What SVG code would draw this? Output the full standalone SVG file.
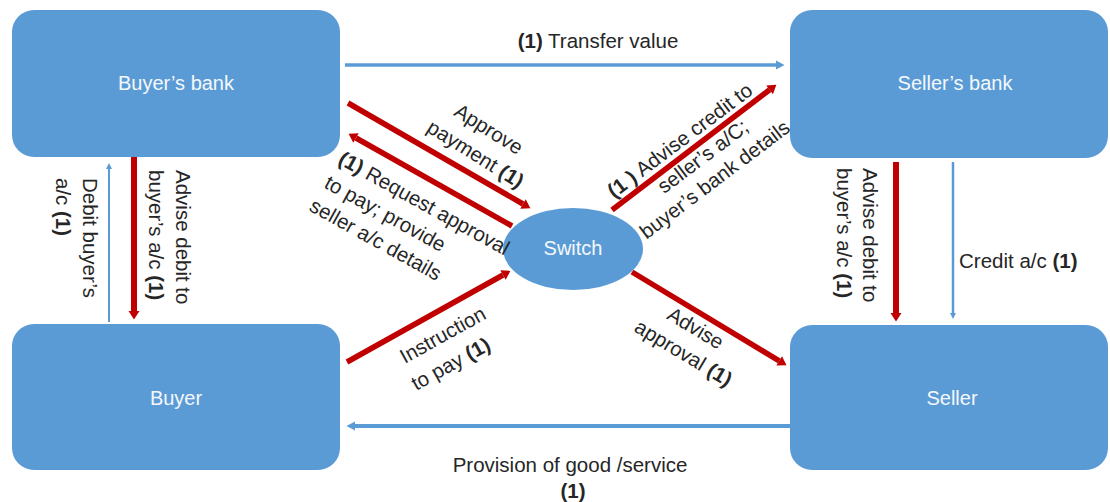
<svg xmlns="http://www.w3.org/2000/svg" width="1110" height="502" viewBox="0 0 1110 502">
  <style>
    .node { fill: #5B9BD5; }
    .ntext { font-family: "Liberation Sans", Arial, sans-serif; font-size: 20px; fill: #F4F8FC; text-anchor: middle; }
    .lbl { font-family: "Liberation Sans", Arial, sans-serif; font-size: 20.5px; fill: #262626; }
    .mid { text-anchor: middle; }
    .b { font-weight: bold; }
    .red { stroke: #C00000; stroke-width: 5.5; fill: none; }
    .redv { stroke: #C00000; stroke-width: 6; fill: none; }
    .blue { stroke: #5B9BD5; fill: none; }
  </style>
  <defs>
    <marker id="ahRed" markerUnits="userSpaceOnUse" markerWidth="12" markerHeight="14" refX="0" refY="6" orient="auto" overflow="visible">
      <path d="M0,0.5 L8.5,6 L0,11.5 Z" fill="#C00000"/>
    </marker>
    <marker id="ahBlue" markerUnits="userSpaceOnUse" markerWidth="12" markerHeight="12" refX="0" refY="5" orient="auto" overflow="visible">
      <path d="M0,0.5 L8.5,5 L0,9.5 Z" fill="#5B9BD5"/>
    </marker>
    <marker id="ahBlueS" markerUnits="userSpaceOnUse" markerWidth="8" markerHeight="8" refX="0" refY="3.5" orient="auto" overflow="visible">
      <path d="M0,0.5 L6,3.5 L0,6.5 Z" fill="#5B9BD5"/>
    </marker>
  </defs>
  <rect width="1110" height="502" fill="#FFFFFF"/>

  <g id="buyers-bank">
    <rect class="node" x="12" y="10" width="328" height="147" rx="22"/>
    <text class="ntext" x="176" y="90">Buyer’s bank</text>
  </g>
  <g id="sellers-bank">
    <rect class="node" x="790" y="10" width="318" height="148" rx="22"/>
    <text class="ntext" x="955" y="90">Seller’s bank</text>
  </g>
  <g id="buyer">
    <rect class="node" x="12" y="324" width="328" height="146" rx="22"/>
    <text class="ntext" x="176" y="405">Buyer</text>
  </g>
  <g id="seller">
    <rect class="node" x="790" y="325" width="318" height="145" rx="22"/>
    <text class="ntext" x="952" y="405">Seller</text>
  </g>
  <g id="switch">
    <ellipse class="node" cx="573" cy="249" rx="70" ry="41"/>
    <text class="ntext" x="573" y="255">Switch</text>
  </g>

  <g id="connectors">
    <g id="transfer-value">
      <line class="blue" stroke-width="3.5" x1="345" y1="65" x2="776" y2="65" marker-end="url(#ahBlue)"/>
      <text class="lbl mid" x="598" y="48"><tspan class="b">(1)</tspan> Transfer value</text>
    </g>
    <g id="provision">
      <line class="blue" stroke-width="4" x1="792" y1="426" x2="355" y2="426" marker-end="url(#ahBlue)"/>
      <text class="lbl mid" x="570" y="472">Provision of good /service</text>
      <text class="lbl mid b" x="573" y="498">(1)</text>
    </g>
    <g id="debit-buyer">
      <line class="blue" stroke-width="2" x1="109" y1="322" x2="109" y2="169" marker-end="url(#ahBlueS)"/>
      <text class="lbl" transform="translate(83,178) rotate(90)">Debit buyer’s</text>
      <text class="lbl" transform="translate(56,178) rotate(90)">a/c <tspan class="b">(1)</tspan></text>
    </g>
    <g id="advise-debit-left">
      <line class="redv" x1="134" y1="157" x2="134" y2="311" marker-end="url(#ahRed)"/>
      <text class="lbl" transform="translate(176,170) rotate(90)">Advise debit to</text>
      <text class="lbl" transform="translate(149,170) rotate(90)">buyer’s a/c <tspan class="b">(1)</tspan></text>
    </g>
    <g id="advise-debit-right">
      <line class="redv" x1="896" y1="162" x2="896" y2="313" marker-end="url(#ahRed)"/>
      <text class="lbl" transform="translate(863,168) rotate(90)">Advise debit to</text>
      <text class="lbl" transform="translate(837,168) rotate(90)">buyer’s a/c <tspan class="b">(1)</tspan></text>
    </g>
    <g id="credit-ac">
      <line class="blue" stroke-width="2.5" x1="953" y1="162" x2="953" y2="313" marker-end="url(#ahBlueS)"/>
      <text class="lbl" x="959" y="268">Credit a/c <tspan class="b">(1)</tspan></text>
    </g>
    <g id="approve-payment">
      <line class="red" x1="348" y1="103" x2="523" y2="204" marker-end="url(#ahRed)"/>
      <text class="lbl mid" transform="translate(485,135) rotate(32)">Approve</text>
      <text class="lbl mid" transform="translate(472,160) rotate(32)">payment <tspan class="b">(1)</tspan></text>
    </g>
    <g id="request-approval">
      <line class="red" x1="512" y1="226" x2="356" y2="138" marker-end="url(#ahRed)"/>
      <text class="lbl" transform="translate(337,163) rotate(29)"><tspan class="b">(1)</tspan> Request approval</text>
      <text class="lbl" transform="translate(323,187) rotate(29)">to pay; provide</text>
      <text class="lbl" transform="translate(308,210) rotate(29)">seller a/c details</text>
    </g>
    <g id="instruction-to-pay">
      <line class="red" x1="347" y1="362" x2="503" y2="275" marker-end="url(#ahRed)"/>
      <text class="lbl mid" transform="translate(446,341) rotate(-29)">Instruction</text>
      <text class="lbl mid" transform="translate(454,370) rotate(-29)">to pay <tspan class="b">(1)</tspan></text>
    </g>
    <g id="advise-credit">
      <line class="red" x1="612" y1="210" x2="769.6" y2="89.8" marker-end="url(#ahRed)"/>
      <text class="lbl mid" transform="translate(684,146) rotate(-37)"><tspan class="b">(1 )</tspan> Advise credit to</text>
      <text class="lbl mid" transform="translate(707,162) rotate(-37)">seller’s a/C;</text>
      <text class="lbl mid" transform="translate(719,185) rotate(-37)">buyer’s bank details</text>
    </g>
    <g id="advise-approval">
      <line class="red" x1="632" y1="272" x2="779.2" y2="360.9" marker-end="url(#ahRed)"/>
      <text class="lbl mid" transform="translate(692,334) rotate(31)">Advise</text>
      <text class="lbl mid" transform="translate(680,359) rotate(31)">approval <tspan class="b">(1)</tspan></text>
    </g>
  </g>
</svg>
